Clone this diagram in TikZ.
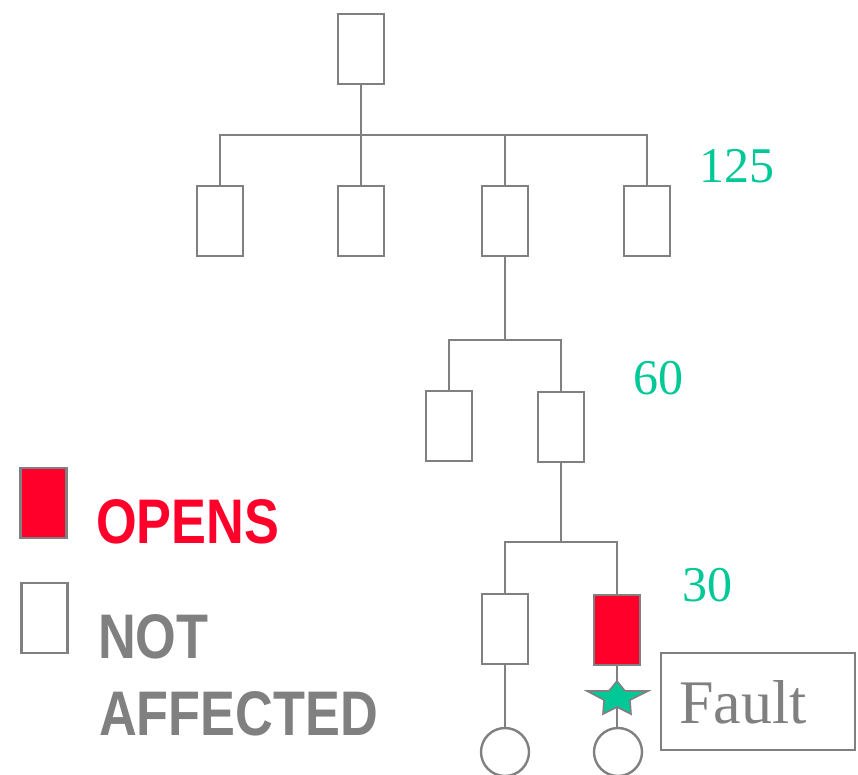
\documentclass[tikz,border=0pt]{standalone}
\usepackage{fontspec}
\setmainfont{Liberation Serif}
\newfontfamily\labfont[FakeStretch=0.83]{Liberation Sans}
\definecolor{gr}{RGB}{128,128,128}
\definecolor{rd}{RGB}{255,0,43}
\definecolor{tl}{RGB}{0,200,150}
\tikzset{
  fuse/.style={draw=gr, line width=2.6pt, fill=white, minimum width=46pt, minimum height=70pt, inner sep=0pt, outer sep=0pt},
  openfuse/.style={fuse, fill=rd},
  wire/.style={draw=gr, line width=2.5pt},
  load/.style={circle, draw=gr, line width=2.4pt, fill=white, minimum size=48pt, inner sep=0pt, outer sep=0pt},
  num/.style={text=tl, anchor=base, inner sep=0pt, font=\fontsize{50}{50}\selectfont},
  lab/.style={anchor=base west, inner sep=0pt, font=\labfont\bfseries\fontsize{63}{63}\selectfont}
}
\begin{document}
\begin{tikzpicture}[x=1pt,y=-1pt]
\useasboundingbox (0,0) rectangle (858,775);
% bus levels
\coordinate (b1) at (0,135);
\coordinate (b2) at (0,340);
\coordinate (b3) at (0,542);
% fuses
\node[fuse] (top) at (361,49) {};
\node[fuse] (a1) at (220,221) {};
\node[fuse] (a2) at (361,221) {};
\node[fuse] (a3) at (505,221) {};
\node[fuse] (a4) at (647,221) {};
\node[fuse] (c1) at (449,426) {};
\node[fuse] (c2) at (561,427) {};
\node[fuse] (d1) at (505,629) {};
\node[openfuse] (d2) at (617,630) {};
% loads
\node[load] (e1) at (505,752) {};
\node[load] (e2) at (618,752) {};
% level 1
\draw[wire] (top.south) -- (top |- b1);
\draw[wire] (a1.north) -- (a1 |- b1) -- (a4 |- b1) -- (a4.north);
\draw[wire] (a2.north) -- (a2 |- b1);
\draw[wire] (a3.north) -- (a3 |- b1);
% level 2
\draw[wire] (a3.south) -- (a3 |- b2);
\draw[wire] (c1.north) -- (c1 |- b2) -- (c2 |- b2) -- (c2.north);
% level 3
\draw[wire] (c2.south) -- (c2 |- b3);
\draw[wire] (d1.north) -- (d1 |- b3) -- (d2 |- b3) -- (d2.north);
% to loads
\draw[wire] (d1.south) -- (e1.north);
\draw[wire] (d2.south) -- (e2.north -| d2.south);
% fault star
\coordinate (st) at (617,697);
\filldraw[fill=tl, draw=gr, line width=1.6pt, line join=miter]
  (617,681) -- (625,691) -- (648,691) -- (630,700) -- (631,714) -- (617,707)
  -- (603,714) -- (604,700) -- (587,691) -- (609,691) -- cycle;
% fault box
\node[draw=gr, line width=2.4pt, minimum width=194pt, minimum height=97pt, anchor=north west, inner sep=0pt] (fault) at (660,652) {};
\node[anchor=base west, inner sep=0pt, text=gr, font=\fontsize{62}{62}\selectfont] (faulttxt) at (679,723) {Fault};
% numbers
\node[num] (n125) at (737,183) {125};
\node[num] (n60) at (658,394) {60};
\node[num] (n30) at (707,601) {30};
% legend
\node[openfuse] (lg1) at (43.5,503) {};
\node[fuse] (lg2) at (44.5,618) {};
\node[lab, text=rd] (opens) at (96,543) {OPENS};
\node[lab, text=gr] (not) at (98,658) {NOT};
\node[lab, text=gr] (aff) at (99,735) {AFFECTED};
\end{tikzpicture}
\end{document}
